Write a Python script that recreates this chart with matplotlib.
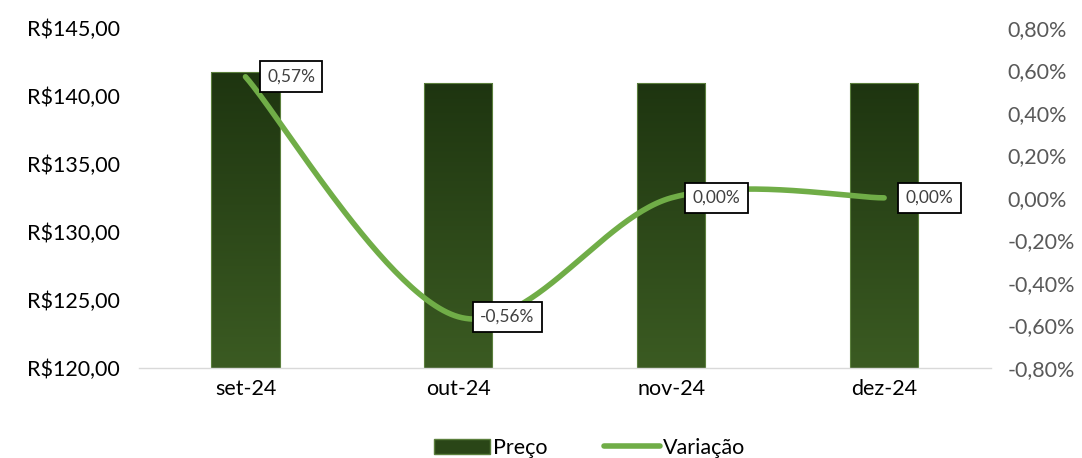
import numpy as np
import matplotlib
matplotlib.use("Agg")
import matplotlib.pyplot as plt
from matplotlib.colors import LinearSegmentedColormap
from matplotlib.lines import Line2D
from matplotlib.patches import Patch

## Data
meses = ["set-24", "out-24", "nov-24", "dez-24"]
preco = [141.75, 140.95, 140.95, 140.95]
variacao = [0.57, -0.56, 0.00, 0.00]
rotulos = ["0,57%", "-0,56%", "0,00%", "0,00%"]
ticks_esq = [120, 125, 130, 135, 140, 145]
ticks_dir = [-0.8, -0.6, -0.4, -0.2, 0.0, 0.2, 0.4, 0.6, 0.8]

plt.rcParams['font.family'] = ['Lato', 'DejaVu Sans']

## Excel-like smoothed line: cubic bezier with catmull-rom control points
def suavizar(xs, ys, n=60):
  pts = np.column_stack([xs, ys]).astype(float)
  out = []
  for i in range(len(pts) - 1):
    p0 = pts[i - 1] if i > 0 else pts[i]
    p1 = pts[i]
    p2 = pts[i + 1]
    p3 = pts[i + 2] if i + 2 < len(pts) else pts[i + 1]
    c1 = p1 + (p2 - p0) / 6
    c2 = p2 - (p3 - p1) / 6
    t = np.linspace(0, 1, n)[:, None]
    seg = (1 - t)**3 * p1 + 3 * (1 - t)**2 * t * c1 + 3 * (1 - t) * t**2 * c2 + t**3 * p2
    out.append(seg)
  out = np.vstack(out)
  return out[:, 0], out[:, 1]

def fmt_real(v):
  return "R$" + f"{v:.2f}".replace(".", ",")

def fmt_pct(v):
  return f"{v:.2f}".replace(".", ",").replace("-0,00", "0,00") + "%"

fig = plt.figure(figsize=(10.82, 4.58), dpi=100)
ax = fig.add_axes([0.1285, 0.197, 0.787, 0.742])
ax2 = ax.twinx()

x = np.arange(len(meses))
largura = 0.32
barras = ax.bar(x, preco, width=largura, color="none", edgecolor="#5b7f3d", linewidth=0.8, zorder=2)

# gradient fill for each bar
cmap = LinearSegmentedColormap.from_list("verde", ["#3b5b22", "#1e3510"])
grad = np.linspace(0, 1, 256)[:, None]
for b in barras:
  x0, y0 = b.get_x(), b.get_y()
  w, h = b.get_width(), b.get_height()
  im = ax.imshow(grad, cmap=cmap, aspect="auto", origin="lower",
                 extent=[x0, x0 + w, 120, y0 + h], zorder=1)
  im.set_clip_path(b)

ax.set_xlim(-0.5, len(meses) - 0.5)
ax.set_ylim(120, 145)
ax.set_yticks(ticks_esq)
ax.set_yticklabels([fmt_real(v) for v in ticks_esq])
ax.set_xticks(x)
ax.set_xticklabels(meses)

ax2.set_ylim(-0.8, 0.8)
ax2.set_yticks(ticks_dir)
ax2.set_yticklabels([fmt_pct(v) for v in ticks_dir])

xs, ys = suavizar(x, variacao)
ax2.plot(xs, ys, color="#70ad47", linewidth=4, solid_capstyle="round", zorder=3)

for xi, yi, r in zip(x, variacao, rotulos):
  ax2.annotate(r, (xi, yi), xytext=(15.5, 0), textcoords="offset points",
               ha="left", va="center", fontsize=12.5, color="#404040", zorder=5,
               bbox=dict(boxstyle="square,pad=0.42", fc="white", ec="black", lw=1.3))

for a in (ax, ax2):
  for s in a.spines.values():
    s.set_visible(False)
  a.tick_params(length=0)
ax.spines["bottom"].set_visible(True)
ax.spines["bottom"].set_color("#d9d9d9")
ax.spines["bottom"].set_linewidth(1)
ax.set_zorder(1)
ax2.set_zorder(2)
ax.tick_params(axis="y", labelsize=15.5, colors="#000000", pad=14)
ax.tick_params(axis="x", labelsize=15.5, colors="#000000", pad=8)
ax2.tick_params(axis="y", labelsize=15.5, colors="#595959", pad=12)

handles = [Patch(facecolor="#2a4617", edgecolor="#5b7f3d", label="Preço"),
           Line2D([0], [0], color="#70ad47", lw=4, solid_capstyle="round", label="Variação")]
fig.legend(handles=handles, loc="lower center", bbox_to_anchor=(0.545, -0.042), ncol=2,
           frameon=False, fontsize=15.5, handlelength=2.6, handletextpad=0.15, columnspacing=2.6)

fig.savefig("out.png", dpi=100)
